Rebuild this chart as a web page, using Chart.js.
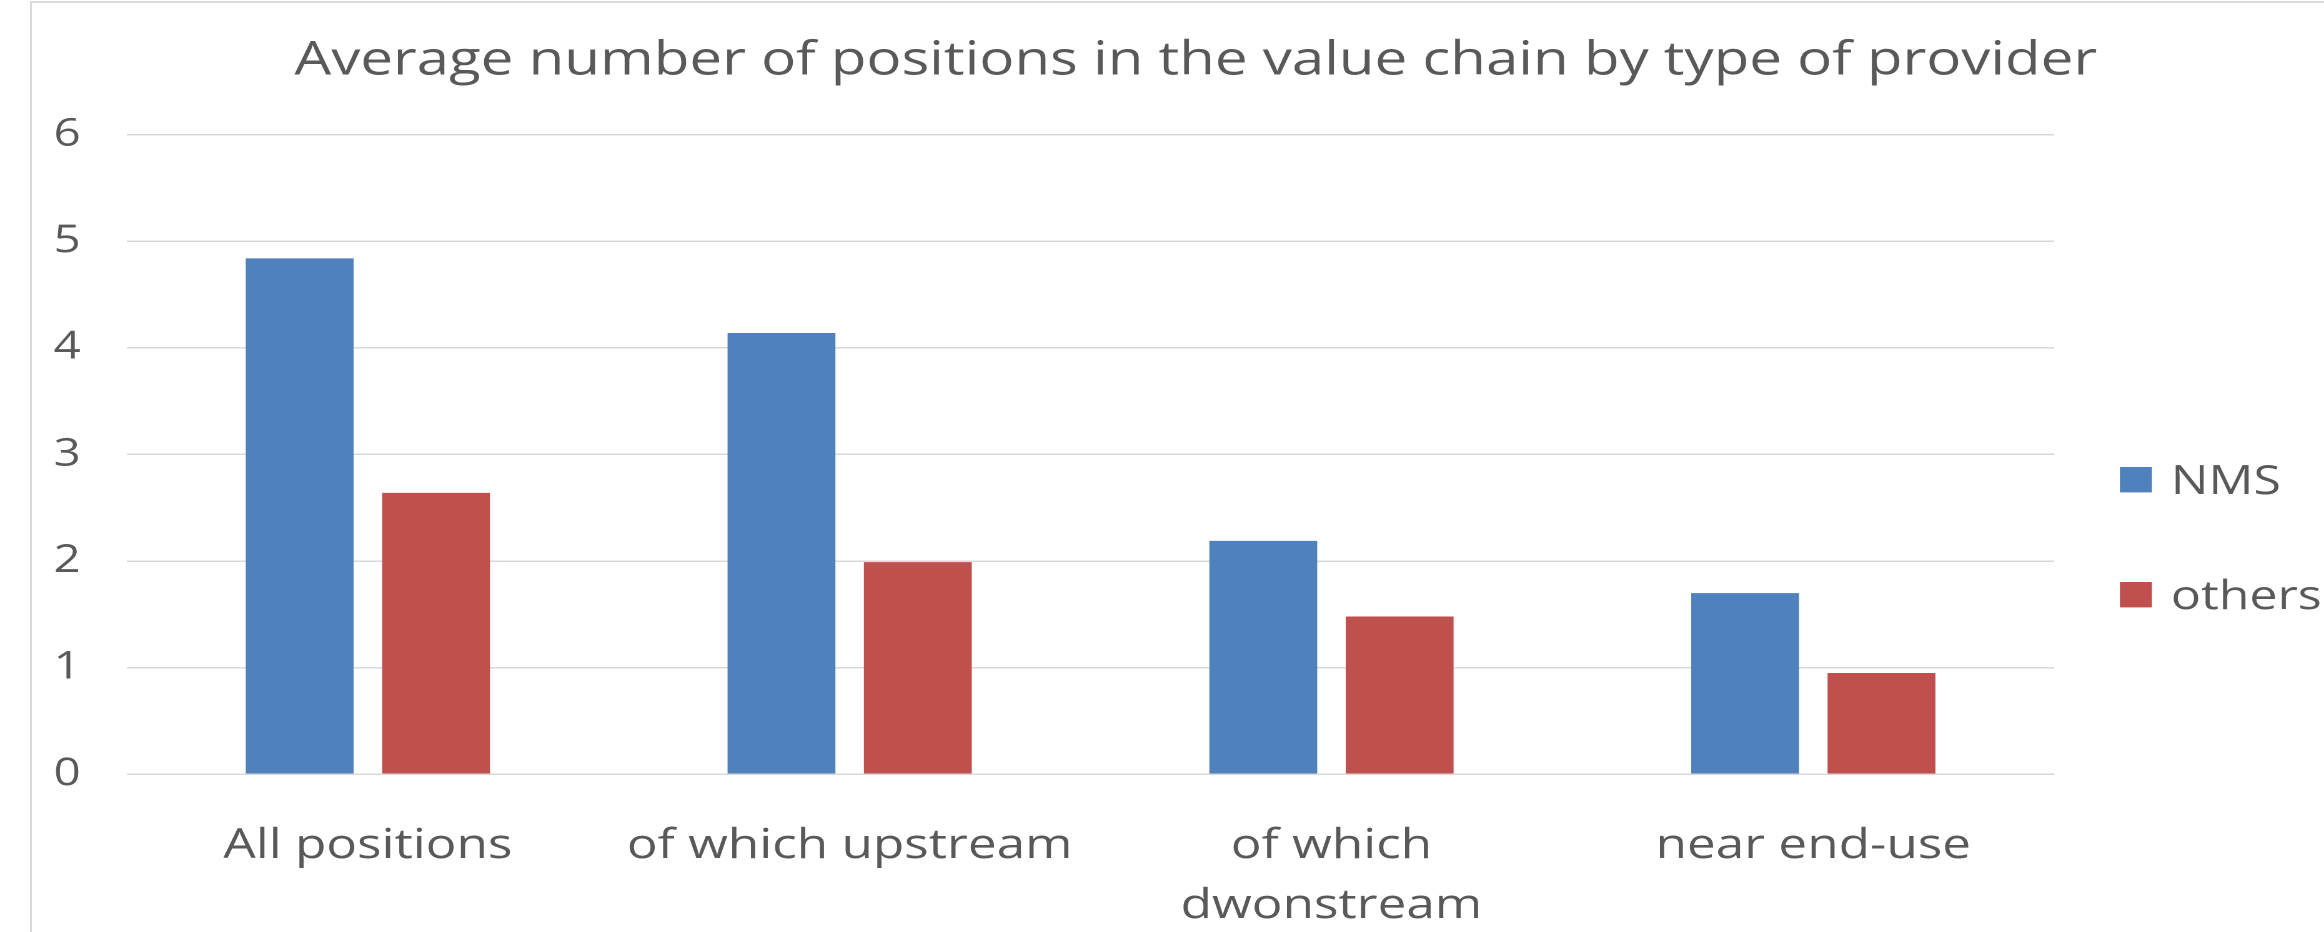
<!DOCTYPE html>
<html>
<head>
<meta charset="utf-8">
<script src="https://cdn.jsdelivr.net/npm/chart.js@4/dist/chart.umd.min.js"></script>
<style>
  html, body { margin: 0; padding: 0; background: #fff; overflow: hidden; }
  body { width: 2324px; height: 932px; position: relative; }
  #frame {
    position: absolute; left: 30px; top: 1px; width: 2400px; height: 1000px;
    border-left: 2px solid #d9d9d9; border-top: 2px solid #d9d9d9;
  }
  /* the original chart is drawn horizontally stretched, so we draw narrower and scale */
  #wrap {
    position: absolute; left: 0; top: 0; width: 1860px; height: 932px;
    transform: scaleX(1.2495); transform-origin: 0 0;
  }
</style>
</head>
<body>
<div id="frame"></div>
<div id="wrap"><canvas id="chart"></canvas></div>
<script>
// Chart data
const categories = ['All positions', 'of which upstream', ['of which', 'dwonstream'], 'near end-use'];
const seriesNames = ['NMS', 'others'];
const nmsValues = [4.84, 4.14, 2.19, 1.70];
const otherValues = [2.64, 1.99, 1.48, 0.95];
const yTicks = [0, 1, 2, 3, 4, 5, 6];

const chartTitle = 'Average number of positions in the value chain by type of provider';
const textColor = '#595959';
const fontFamily = "'Open Sans', sans-serif";

// Title and legend drawn by hand so they sit where the original has them
const titleLegendPlugin = {
    id: 'titleLegend',
    afterDraw(chart) {
        const ctx = chart.ctx;
        ctx.save();
        ctx.fillStyle = textColor;
        ctx.font = '46.6px ' + fontFamily;
        ctx.textAlign = 'center';
        ctx.textBaseline = 'alphabetic';
        ctx.fillText(chartTitle, 957, 74.3);

        ctx.font = '40px ' + fontFamily;
        ctx.textAlign = 'left';
        chart.data.datasets.forEach((ds, i) => {
            const top = 467 + i * 115;
            ctx.fillStyle = ds.backgroundColor;
            ctx.fillRect(1696.6, top, 25.6, 25.4);
            ctx.fillStyle = textColor;
            ctx.fillText(ds.label, 1737.4, top + 27);
        });
        ctx.restore();
    }
};

document.addEventListener('DOMContentLoaded', function() {
    const ctx = document.getElementById('chart').getContext('2d');
    new Chart(ctx, {
        type: 'bar',
        data: {
            labels: categories,
            datasets: [{
                label: seriesNames[0],
                data: nmsValues,
                backgroundColor: '#4f81bd',
                categoryPercentage: 0.566,
                barPercentage: 0.791
            }, {
                label: seriesNames[1],
                data: otherValues,
                backgroundColor: '#c0504d',
                categoryPercentage: 0.566,
                barPercentage: 0.791
            }]
        },
        options: {
            responsive: true,
            maintainAspectRatio: false,
            animation: false,
            devicePixelRatio: 2,
            layout: {
                padding: { left: 0, right: 216, top: 134.7, bottom: 0 }
            },
            plugins: {
                legend: { display: false },
                title: { display: false },
                tooltip: { enabled: false }
            },
            scales: {
                x: {
                    grid: { display: false },
                    border: { display: false },
                    ticks: {
                        color: textColor,
                        padding: 34,
                        maxRotation: 0,
                        autoSkip: false,
                        font: { family: fontFamily, size: 41, lineHeight: '60px' }
                    },
                    afterFit(scale) { scale.height = 157.7; }
                },
                y: {
                    min: 0,
                    max: 6,
                    afterBuildTicks(scale) { scale.ticks = yTicks.map(v => ({ value: v })); },
                    grid: { color: '#d9d9d9', lineWidth: 1.5, drawTicks: false },
                    border: { display: false },
                    ticks: {
                        color: textColor,
                        padding: 37,
                        font: { family: fontFamily, size: 38 }
                    },
                    afterFit(scale) { scale.width = 101.6; }
                }
            }
        },
        plugins: [titleLegendPlugin]
    });
});
</script>
</body>
</html>
